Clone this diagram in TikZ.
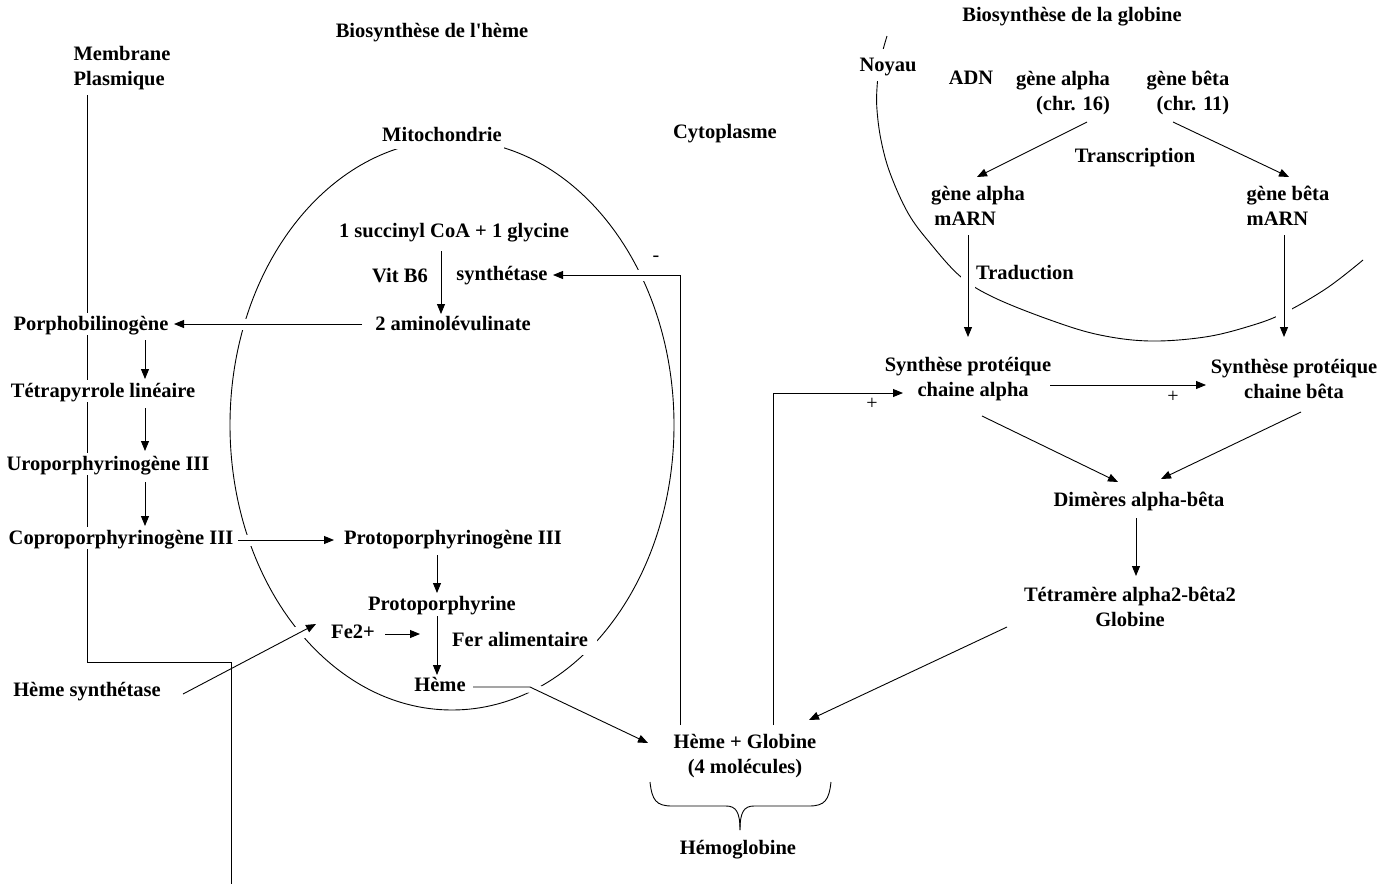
\documentclass[tikz,border=0pt]{standalone}
\usepackage{fontspec}
\setmainfont{Liberation Serif}
\usetikzlibrary{arrows.meta}
\pgfdeclarelayer{bg}
\pgfsetlayers{bg,main}
\begin{document}
\begin{tikzpicture}[x=1pt,y=-1pt,
  lbl/.style={font=\bfseries\fontsize{20.5}{25.5}\selectfont, fill=white, inner sep=2pt, align=center},
  one/.style={text height=15pt, text depth=3pt},
  sign/.style={font=\fontsize{20}{20}\selectfont, inner sep=0pt},
  ln/.style={line width=0.9pt},
  arr/.style={draw, line width=0.9pt, -{Triangle[length=10pt,width=8pt]}},
  mask/.style={draw=white, line width=11pt},
]
\useasboundingbox (0,0) rectangle (1393,884);

% ---------- labels ----------
\node[lbl, one] (t1) at (432,31) {Biosynthèse de l\textquotesingle hème};
\node[lbl, align=left] (mem) at (122,68) {Membrane\\Plasmique};
\node[lbl, one, inner ysep=5pt] (mito) at (442,135) {Mitochondrie};
\node[lbl, one] (cyto) at (725,132) {Cytoplasme};
\node[lbl, one] (succ) at (454,231) {1 succinyl CoA + 1 glycine};
\node[lbl, one] (vit) at (400,276) {Vit B6};
\node[lbl, one] (synt) at (502,274) {synthétase};
\node[lbl, one] (amino) at (453,324) {2 aminolévulinate};
\node[lbl, one] (porpho) at (91,324) {Porphobilinogène};
\node[lbl, one] (tetra) at (103,391) {Tétrapyrrole linéaire};
\node[lbl, one] (uro) at (108,464) {Uroporphyrinogène III};
\node[lbl, one] (copro) at (121,538) {Coproporphyrinogène III};
\node[lbl, one] (protog) at (453,538) {Protoporphyrinogène III};
\node[lbl, one] (proto) at (442,604) {Protoporphyrine};
\node[lbl, one, inner sep=4pt] (fe) at (353,632) {Fe2+};
\node[lbl, one, inner xsep=9pt, inner ysep=6pt] (fer) at (520,640) {Fer alimentaire};
\node[lbl, one] (heme) at (440,685) {Hème};
\node[lbl, one] (hsyn) at (87,690) {Hème synthétase};
\node[lbl] (hg) at (745,756) {Hème + Globine\\(4 molécules)};
\node[lbl, one] (hemo) at (738,848) {Hémoglobine};

\node[lbl, one] (t2) at (1072,15) {Biosynthèse de la globine};
\node[lbl, one, inner ysep=7pt] (noyau) at (888,65) {Noyau};
\node[lbl, one] (adn) at (971,78) {ADN};
\node[lbl, align=right] (galpha) at (1063,93) {gène alpha\\(chr. 16)};
\node[lbl, align=right] (gbeta) at (1188,93) {gène bêta\\(chr. 11)};
\node[lbl, one] (transc) at (1135,156) {Transcription};
\node[lbl, align=left] (malpha) at (978,206) {gène alpha\\\,mARN};
\node[lbl, align=left] (mbeta) at (1288,206) {gène bêta\\mARN};
\node[lbl, one] (trad) at (1025,273) {Traduction};
\node[lbl] (spa) at (968,379) {Synthèse protéique\\\ \ chaine alpha};
\node[lbl] (spb) at (1294,379) {Synthèse protéique\\chaine bêta};
\node[lbl, one] (dim) at (1139,500) {Dimères alpha-bêta};
\node[lbl] (tetram) at (1130,607) {Tétramère alpha2-bêta2\\Globine};

\node[sign] (minus) at (656,259) {-};
\node[sign] (plus1) at (872,404) {+};
\node[sign] (plus2) at (1173,397) {+};

\coordinate (fetip) at (420,634);
\coordinate (hbend) at (530,687);
\coordinate (mcorner) at (231,662);
\coordinate (mbot) at (231,884);

% ---------- background outlines ----------
\begin{pgfonlayer}{bg}
  % mitochondrie
  \draw[ln] (452,425) ellipse [x radius=222, y radius=285];
  % noyau
  \draw[ln] plot[smooth, tension=0.6] coordinates {(887,36) (880,62) (877,88) (877,110) (881,140) (890,173) (908,213) (930,243) (961,277) (995,298) (1053,321) (1100,335) (1150,341) (1205,337) (1250,326) (1284,313) (1327,288) (1363,260)};
  % gaps where connectors cross
  \draw[mask] ([shift={(-91,0)}]amino.center) -- ([shift={(83,0)}]porpho.center);
  \draw[mask] ([shift={(117,2)}]copro.center) -- ([shift={(-119,2)}]protog.center);
  \draw[mask, line width=14pt] ([shift={(173,-36)}]hsyn.center) -- ([shift={(-37,-8)}]fe.center);
  \draw[mask] ([shift={(33,2)}]heme.center) -- (hbend) -- ([shift={(-97,-13)}]hg.center);
  \draw[mask] ([shift={(-65,-31)}]hg.center) |- ([shift={(51,1)}]synt.center);
  \draw[mask, line width=14pt] ([shift={(-10,29)}]malpha.center) -- ([shift={(0,-42)}]spa.center);
  \draw[mask, line width=16pt] ([shift={(-4,29)}]mbeta.center) -- ([shift={(-10,-42)}]spb.center);
  % membrane plasmique
  \draw[ln] ([shift={(-35,27)}]mem.center) |- (mcorner) -- (mbot);
\end{pgfonlayer}

% ---------- connectors: heme ----------
\draw[arr] ([shift={(-13,20)}]succ.center) -- ([shift={(-12,-10)}]amino.center);
\draw[arr] ([shift={(-91,0)}]amino.center) -- ([shift={(83,0)}]porpho.center);
\draw[arr] ([shift={(54,16)}]porpho.center) -- ([shift={(42,-12)}]tetra.center);
\draw[arr] ([shift={(42,17)}]tetra.center) -- ([shift={(37,-13)}]uro.center);
\draw[arr] ([shift={(37,18)}]uro.center) -- ([shift={(24,-12)}]copro.center);
\draw[arr] ([shift={(117,2)}]copro.center) -- ([shift={(-119,2)}]protog.center);
\draw[arr] ([shift={(-16,17)}]protog.center) -- ([shift={(-5,-11)}]proto.center);
\draw[arr] ([shift={(-5,12)}]proto.center) -- ([shift={(-3,-10)}]heme.center);
\draw[arr] ([shift={(32,2)}]fe.center) -- (fetip);
\draw[arr] ([shift={(96,4)}]hsyn.center) -- ([shift={(-37,-8)}]fe.center);
\draw[arr] ([shift={(33,2)}]heme.center) -- (hbend) -- ([shift={(-97,-13)}]hg.center);
\draw[arr] ([shift={(-65,-31)}]hg.center) |- ([shift={(51,1)}]synt.center);
\draw[arr] ([shift={(28,-31)}]hg.center) |- ([shift={(-65,14)}]spa.center);

% ---------- connectors: globine ----------
\draw[arr] ([shift={(24,29)}]galpha.center) -- ([shift={(-1,-29)}]malpha.center);
\draw[arr] ([shift={(-15,29)}]gbeta.center) -- ([shift={(1,-29)}]mbeta.center);
\draw[arr] ([shift={(-10,29)}]malpha.center) -- ([shift={(0,-42)}]spa.center);
\draw[arr] ([shift={(-4,29)}]mbeta.center) -- ([shift={(-10,-42)}]spb.center);
\draw[arr] ([shift={(82,6)}]spa.center) -- ([shift={(-88,6)}]spb.center);
\draw[arr] ([shift={(14,37)}]spa.center) -- ([shift={(-21,-18)}]dim.center);
\draw[arr] ([shift={(7,33)}]spb.center) -- ([shift={(22,-21)}]dim.center);
\draw[arr] ([shift={(-3,18)}]dim.center) -- ([shift={(6,-31)}]tetram.center);
\draw[arr] ([shift={(-123,20)}]tetram.center) -- ([shift={(64,-36)}]hg.center);

% ---------- brace ----------
\draw[ln] (650,782) .. controls (652,800) and (656,806) .. (672,806) -- (726,806) .. controls (736,806) and (740,812) .. (740,830);
\draw[ln] (831,782) .. controls (829,800) and (825,806) .. (809,806) -- (754,806) .. controls (744,806) and (740,812) .. (740,830);
\end{tikzpicture}
\end{document}
